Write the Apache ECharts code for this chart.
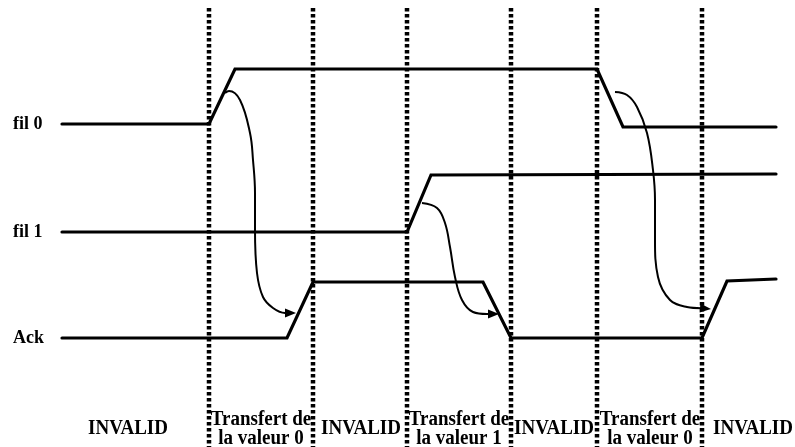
<!DOCTYPE html>
<html>
<head>
<meta charset="utf-8">
<script src="https://cdn.jsdelivr.net/npm/echarts@6/dist/echarts.min.js"></script>
<style>html,body{margin:0;padding:0;background:#fff}#c{width:795px;height:447px}</style>
</head>
<body>
<div id="c"></div>
<script>
// Timing diagram data (x = time position, y = vertical level)
const signalNames = ['fil 0', 'fil 1', 'Ack'];
const signalLabelPos = [[13, 124], [13, 232], [13, 338]];
const fil0 = [[62,124],[209,124],[235,69],[597,69],[623,127],[776,127]];
const fil1 = [[62,232],[407,232],[431,175],[776,174]];
const ack  = [[62,338],[287,338],[313,282],[483,282],[511,338],[702,338],[727,281],[776,279]];
const boundaries = [209, 313, 407, 511, 597, 702];
const boundaryTop = 8, boundaryBottom = 447;
const arrow1 = [[225,93],[229,91],[240,100],[250,133],[253,160],[255,193],[255,230],[257,273],[263,297],[273,308],[285,313],[296,313]];
const arrow2 = [[422,203],[437,208],[445,223],[450,247],[455,277],[462,300],[473,312],[487,314],[499,314]];
const arrow3 = [[615,92],[627,95],[637,107],[647,133],[653,170],[655,200],[655,240],[658,277],[670,300],[687,307],[711,309]];
const phaseLabels = ['INVALID', 'Transfert de\nla valeur 0', 'INVALID', 'Transfert de\nla valeur 1', 'INVALID', 'Transfert de\nla valeur 0', 'INVALID'];
const phaseX = [128, 261, 361, 459, 554, 650, 753];
const phaseY = 429;

const FONT = '"Liberation Serif", "Times New Roman", serif';
const HEAD_LEN = 11, HEAD_W = 4.5;
const series = [];

boundaries.forEach(function (x) {
  series.push({
    type: 'line', data: [[x, boundaryTop], [x, boundaryBottom]], symbol: 'none', silent: true,
    lineStyle: { color: '#000', width: 4.5, type: [3.5, 2.5], opacity: 1 }, z: 1
  });
});
[fil0, fil1, ack].forEach(function (d) {
  series.push({
    type: 'line', data: d, symbol: 'none', silent: true,
    lineStyle: { color: '#000', width: 3.2, cap: 'round', join: 'miter' }, z: 3
  });
});
[arrow1, arrow2, arrow3].forEach(function (d) {
  const tip = d[d.length - 1], prev = d[d.length - 2];
  const dx = tip[0] - prev[0], dy = tip[1] - prev[1];
  const len = Math.sqrt(dx * dx + dy * dy) || 1;
  const base = [tip[0] - dx / len * (HEAD_LEN - 1), tip[1] - dy / len * (HEAD_LEN - 1)];
  series.push({
    type: 'line', data: d.slice(0, d.length - 1).concat([base]), symbol: 'none', smooth: 0.4, silent: true,
    lineStyle: { color: '#000', width: 2 }, z: 4
  });
  // arrowhead
  series.push({
    type: 'custom', silent: true, z: 5,
    data: [[prev[0], prev[1], tip[0], tip[1]]],
    renderItem: function (params, api) {
      const a = api.coord([api.value(0), api.value(1)]);
      const b = api.coord([api.value(2), api.value(3)]);
      const ddx = b[0] - a[0], ddy = b[1] - a[1];
      const l = Math.sqrt(ddx * ddx + ddy * ddy) || 1;
      const ux = ddx / l, uy = ddy / l;
      const bx = b[0] - ux * HEAD_LEN, by = b[1] - uy * HEAD_LEN;
      return {
        type: 'polygon',
        shape: { points: [b, [bx - uy * HEAD_W, by + ux * HEAD_W], [bx + uy * HEAD_W, by - ux * HEAD_W]] },
        style: { fill: '#000' }
      };
    }
  });
});
// text labels drawn by a custom series positioned through the axes
function textSeries(names, positions, align, size, sy) {
  return {
    type: 'custom', silent: true, z: 6,
    data: names.map(function (n, i) { return [positions[i][0], positions[i][1], i]; }),
    renderItem: function (params, api) {
      const p = api.coord([api.value(0), api.value(1)]);
      return {
        type: 'text',
        x: p[0], y: p[1], scaleY: sy,
        style: {
          text: names[api.value(2)], fill: '#000',
          font: 'bold ' + size + 'px ' + FONT,
          align: align, verticalAlign: 'middle', lineHeight: size - 2
        }
      };
    }
  };
}
series.push(textSeries(signalNames, signalLabelPos, 'left', 18, 1.1));
series.push(textSeries(phaseLabels, phaseX.map(function (x) { return [x, phaseY]; }), 'center', 19, 1.12));

const chart = echarts.init(document.getElementById('c'), null, { renderer: 'canvas' });
chart.setOption({
  animation: false,
  backgroundColor: '#fff',
  grid: { left: 0, right: 0, top: 0, bottom: 0 },
  xAxis: { type: 'value', min: 0, max: 795, show: false },
  yAxis: { type: 'value', min: 0, max: 447, inverse: true, show: false },
  series: series
});
</script>
</body>
</html>
